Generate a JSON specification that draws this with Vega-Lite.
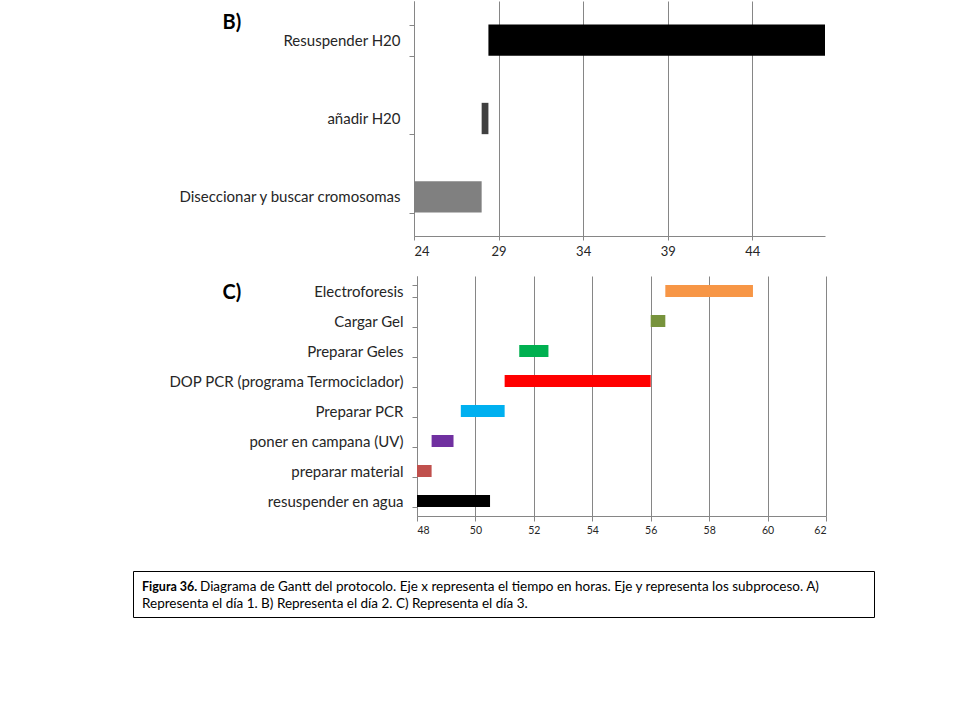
{
  "$schema": "https://vega.github.io/schema/vega-lite/v6.json",
  "background": "white",
  "padding": {"left": 132, "top": -6, "right": 10, "bottom": 10},
  "config": {
    "view": {"stroke": null},
    "font": "Lato",
    "axis": {
      "domainColor": "#868686",
      "tickColor": "#868686",
      "gridColor": "#868686",
      "gridOpacity": 1,
      "labelColor": "#262626",
      "labelFont": "Lato",
      "labelLimit": 0
    }
  },
  "resolve": {"scale": {"color": "independent", "x": "independent", "y": "independent"}},
  "vconcat": [
    {
      "spacing": 11,
      "resolve": {"scale": {"color": "independent", "x": "independent", "y": "independent"}},
      "vconcat": [
        {
          "spacing": 0,
          "resolve": {"scale": {"color": "independent", "x": "independent", "y": "independent"}},
          "hconcat": [
            {"width": 44, "height": 1, "data": {"values": []}, "mark": "point"},
            {
              "width": 411,
              "height": 235,
              "data": {"values": [
                {"task": "Resuspender H20", "start": 28.4, "end": 48.3},
                {"task": "añadir H20", "start": 28.0, "end": 28.4},
                {"task": "Diseccionar y buscar cromosomas", "start": 24, "end": 28.0}
              ]},
              "mark": {"type": "bar"},
              "encoding": {
                "y": {"field": "task", "type": "nominal", "sort": null,
                      "scale": {"paddingInner": 0.6, "paddingOuter": 0.3},
                      "axis": {"tickBand": "extent", "tickSize": 5, "labelPadding": 9, "labelFontSize": 15, "grid": false,
                               "title": "B)", "titleAngle": 0, "titleX": -192, "titleY": 21, "titleAlign": "left", "titleBaseline": "middle",
                               "titleFontSize": 20, "titleFontWeight": "bold", "titleFont": "Lato", "titleColor": "#000000"}},
                "x": {"field": "start", "type": "quantitative",
                      "scale": {"domain": [24, 48.3], "nice": false, "zero": false},
                      "axis": {"title": null, "values": [24, 29, 34, 39, 44], "grid": true, "tickSize": 4, "labelPadding": 5, "labelFontSize": 13}},
                "x2": {"field": "end"},
                "color": {"field": "task", "type": "nominal", "legend": null,
                          "scale": {"domain": ["Resuspender H20", "añadir H20", "Diseccionar y buscar cromosomas"], "range": ["#000000", "#404040", "#808080"]}}
              }
            }
          ]
        },
        {
          "spacing": 0,
          "resolve": {"scale": {"color": "independent", "x": "independent", "y": "independent"}},
          "hconcat": [
            {"width": 35, "height": 1, "data": {"values": []}, "mark": "point"},
            {
              "width": 409,
              "height": 240,
              "data": {"values": [
                {"task": "Electroforesis", "start": 56.5, "end": 59.5},
                {"task": "Cargar Gel", "start": 56.0, "end": 56.5},
                {"task": "Preparar Geles", "start": 51.5, "end": 52.5},
                {"task": "DOP PCR (programa Termociclador)", "start": 51.0, "end": 56.0},
                {"task": "Preparar PCR", "start": 49.5, "end": 51.0},
                {"task": "poner en campana (UV)", "start": 48.5, "end": 49.25},
                {"task": "preparar material", "start": 48.0, "end": 48.5},
                {"task": "resuspender en agua", "start": 48.0, "end": 50.5}
              ]},
              "mark": {"type": "bar"},
              "encoding": {
                "y": {"field": "task", "type": "nominal", "sort": null,
                      "scale": {"paddingInner": 0.6, "paddingOuter": 0.3},
                      "axis": {"tickBand": "extent", "tickSize": 5, "labelPadding": 9, "labelFontSize": 15, "grid": false,
                               "title": "C)", "titleAngle": 0, "titleX": -195, "titleY": 16, "titleAlign": "left", "titleBaseline": "middle",
                               "titleFontSize": 20, "titleFontWeight": "bold", "titleFont": "Lato", "titleColor": "#000000"}},
                "x": {"field": "start", "type": "quantitative",
                      "scale": {"domain": [48, 62], "nice": false, "zero": false},
                      "axis": {"title": null, "values": [48, 50, 52, 54, 56, 58, 60, 62], "grid": true, "tickSize": 5, "labelPadding": 4, "labelFontSize": 10.5}},
                "x2": {"field": "end"},
                "color": {"field": "task", "type": "nominal", "legend": null,
                          "scale": {"domain": ["Electroforesis", "Cargar Gel", "Preparar Geles", "DOP PCR (programa Termociclador)", "Preparar PCR", "poner en campana (UV)", "preparar material", "resuspender en agua"],
                                    "range": ["#F79646", "#77933C", "#00B050", "#FF0000", "#00B0F0", "#7030A0", "#C0504D", "#000000"]}}
              }
            }
          ]
        }
      ]
    },
    {
      "width": 741,
      "height": 46,
      "view": {"stroke": "#000000", "strokeWidth": 1},
      "data": {"values": [
        {"row": 1, "part": "bold", "text": "Figura 36."},
        {"row": 1, "part": "regular", "text": "Diagrama de Gantt del protocolo. Eje x representa el tiempo en horas. Eje y representa los subproceso.  A)"},
        {"row": 2, "part": "line2", "text": "Representa el día 1. B) Representa el día 2. C) Representa el día 3."}
      ]},
      "encoding": {
        "y": {"field": "row", "type": "ordinal", "axis": null,
              "scale": {"type": "point", "padding": 0.853, "align": 0.55}},
        "text": {"field": "text"}
      },
      "layer": [
        {"transform": [{"filter": "datum.part === 'bold'"}],
         "mark": {"type": "text", "align": "left", "fontWeight": "bold", "fontSize": 12.5, "font": "Lato", "color": "#000000"},
         "encoding": {"x": {"value": 9}}},
        {"transform": [{"filter": "datum.part === 'regular'"}],
         "mark": {"type": "text", "align": "left", "fontSize": 13.5, "font": "Lato", "color": "#000000"},
         "encoding": {"x": {"value": 67}}},
        {"transform": [{"filter": "datum.part === 'line2'"}],
         "mark": {"type": "text", "align": "left", "fontSize": 13.5, "font": "Lato", "color": "#000000"},
         "encoding": {"x": {"value": 9}}}
      ]
    }
  ],
  "spacing": 34
}
